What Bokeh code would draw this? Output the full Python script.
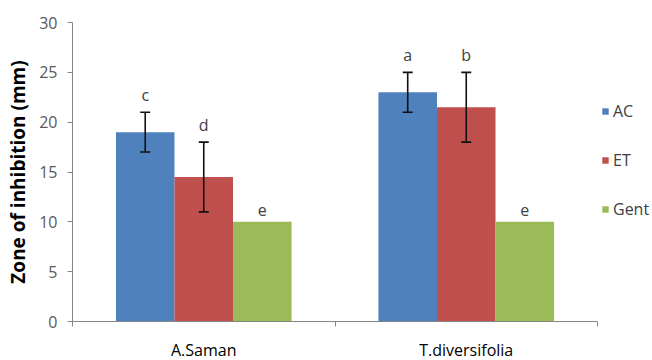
from bokeh.plotting import figure
from bokeh.models import (ColumnDataSource, Whisker, TeeHead, FixedTicker, Range1d,
                          Legend, LegendItem, LabelSet)
from bokeh.core.properties import value
from bokeh.embed import file_html
from bokeh.resources import INLINE

categories = ["A.Saman", "T.diversifolia"]
series = ["AC", "ET", "Gent"]
colors = ["#4F81BD", "#C0504D", "#9BBB59"]
values = {
    "AC": [19, 23],
    "ET": [14.5, 21.5],
    "Gent": [10, 10],
}
errors = {
    "AC": [2, 2],
    "ET": [3.5, 3.5],
    "Gent": [0, 0],
}
letters = {
    "AC": ["c", "a"],
    "ET": ["d", "b"],
    "Gent": ["e", "e"],
}
y_ticks = [0, 5, 10, 15, 20, 25, 30]

FONT = "Open Sans"
bar_w = 0.223
n = len(categories)
axis_px = 525      # width of the drawn axis
frame_px = 580     # frame extends to the right to hold the legend

p = figure(frame_width=frame_px, frame_height=299, output_backend="svg", toolbar_location=None,
           x_range=Range1d(0, n * frame_px / axis_px), y_range=Range1d(0, 30),
           min_border_left=72, min_border_top=22, min_border_bottom=8,
           min_border_right=0)
p.outline_line_color = None
p.xgrid.grid_line_color = None
p.ygrid.grid_line_color = None
p.background_fill_color = "white"

items = []
for i, s in enumerate(series):
    xs = [j + 0.5 + (i - 1) * bar_w for j in range(n)]
    top = values[s]
    err = errors[s]
    src = ColumnDataSource(dict(x=xs, top=top,
                                upper=[t + e for t, e in zip(top, err)],
                                lower=[t - e for t, e in zip(top, err)],
                                ly=[t + e for t, e in zip(top, err)],
                                lab=letters[s]))
    r = p.vbar(x="x", top="top", width=bar_w, bottom=0, source=src,
               fill_color=colors[i], line_color=None)
    items.append(LegendItem(label=s, renderers=[r]))
    if any(e > 0 for e in err):
        w = Whisker(base="x", upper="upper", lower="lower", source=src, level="overlay",
                    line_color="#111111", line_width=1.6,
                    upper_head=TeeHead(size=10, line_color="#111111", line_width=1.6),
                    lower_head=TeeHead(size=10, line_color="#111111", line_width=1.6))
        p.add_layout(w)
    labels = LabelSet(x="x", y="ly", text="lab", source=src, y_offset=6,
                      text_align="center", text_baseline="bottom",
                      text_font=value(FONT), text_font_size="16px", text_color="#404040")
    p.add_layout(labels)

# axes
p.yaxis.ticker = FixedTicker(ticks=y_ticks)
p.yaxis.axis_label = "Zone of inhibition (mm)"
p.yaxis.axis_label_text_font = FONT
p.yaxis.axis_label_text_font_style = "bold"
p.yaxis.axis_label_text_font_size = "19px"
p.yaxis.axis_label_text_color = "#000000"
p.yaxis.major_label_text_font = FONT
p.yaxis.major_label_text_font_size = "16px"
p.yaxis.major_label_text_color = "#595959"
p.yaxis.axis_line_color = "#868686"
p.yaxis.major_tick_line_color = "#868686"
p.yaxis.major_tick_in = 0
p.yaxis.major_tick_out = 5
p.yaxis.minor_tick_line_color = None
p.yaxis.major_label_standoff = 10
p.yaxis.axis_label_standoff = 5

centers = [j + 0.5 for j in range(n)]
bounds = list(range(n + 1))
p.xaxis.bounds = (0, n)
p.xaxis.ticker = FixedTicker(ticks=centers, minor_ticks=bounds)
p.xaxis.major_label_overrides = {c: name for c, name in zip(centers, categories)}
p.xaxis.major_tick_line_color = None
p.xaxis.minor_tick_line_color = "#868686"
p.xaxis.minor_tick_in = 0
p.xaxis.minor_tick_out = 5
p.xaxis.axis_line_color = "#868686"
p.xaxis.major_label_text_font = FONT
p.xaxis.major_label_text_font_size = "16px"
p.xaxis.major_label_text_color = "#000000"
p.xaxis.major_label_standoff = 11

legend = Legend(items=items, location=(529, 101), border_line_color=None,
                background_fill_alpha=0, label_text_font=FONT,
                label_text_font_size="16px", label_text_color="#404040",
                glyph_width=8, glyph_height=8, label_height=20, spacing=27,
                label_standoff=4, label_width=0, padding=0, margin=0)
p.add_layout(legend)

open("out.html", "w").write(file_html(p, INLINE))
